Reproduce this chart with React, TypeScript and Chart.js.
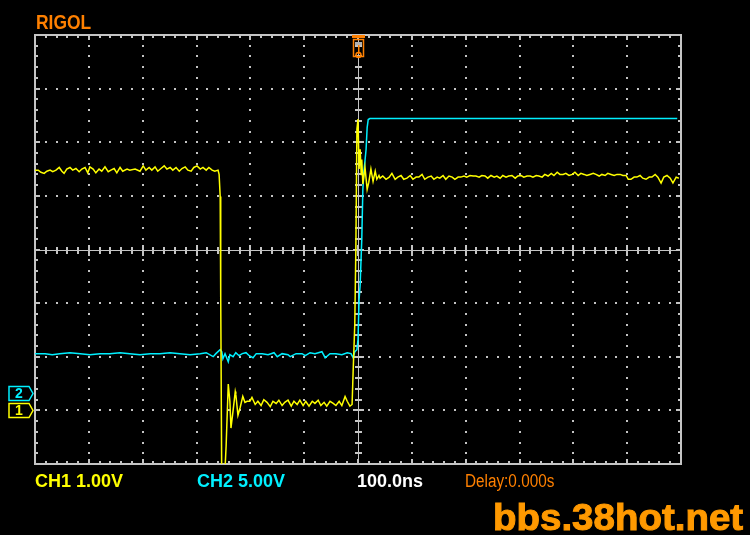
import React, { useEffect, useRef } from "react";
import { Chart, registerables } from "chart.js";

Chart.register(...registerables);

// ---- Timebase / vertical settings ----
const TIME_MIN = -600; // ns (100 ns/div, 12 div)
const TIME_MAX = 600;
const TIME_PER_DIV = 100;
const CH1_VOLTS_PER_DIV = 1;
const CH1_GROUND_DIV = -3;
const CH2_VOLTS_PER_DIV = 5;
const CH2_GROUND_DIV = -2.67;

// ---- CH1 (yellow) samples: [time ns, volts] ----
const CH1_HIGH_BEFORE: [number, number][] = [
  [-600, 4.48], [-594, 4.48], [-589, 4.44], [-583, 4.42], [-578, 4.46], [-572, 4.48], [-567, 4.45],
  [-561, 4.48], [-555, 4.53], [-550, 4.46], [-546, 4.42], [-541, 4.5], [-535, 4.53], [-530, 4.48],
  [-524, 4.51], [-518, 4.45], [-513, 4.5], [-507, 4.53], [-502, 4.43], [-498, 4.54], [-492, 4.5],
  [-487, 4.43], [-481, 4.5], [-476, 4.46], [-470, 4.54], [-464, 4.45], [-459, 4.48], [-453, 4.51],
  [-448, 4.43], [-442, 4.53], [-437, 4.46], [-429, 4.5], [-424, 4.48], [-414, 4.5], [-405, 4.46],
  [-399, 4.56], [-394, 4.48], [-388, 4.53], [-383, 4.48], [-377, 4.54], [-372, 4.46], [-366, 4.51],
  [-360, 4.56], [-355, 4.5], [-349, 4.53], [-344, 4.48], [-338, 4.53], [-332, 4.46], [-327, 4.51],
  [-321, 4.54], [-316, 4.48], [-310, 4.46], [-305, 4.53], [-299, 4.56], [-293, 4.5], [-288, 4.53],
  [-282, 4.48], [-277, 4.53], [-271, 4.48], [-266, 4.46], [-260, 4.48],
];
const CH1_FALL_EDGE: [number, number][] = [
  [-258, 4.4], [-256, 3.99], [-255, 2.1], [-253, -1.5], [-249, -1.5], [-245, -0.67], [-241, 0.49],
  [-238, 0.17], [-236, -0.33], [-232, 0.0], [-228, 0.35], [-227, 0.3], [-223, -0.09], [-219, 0.05],
  [-214, 0.26], [-210, 0.15], [-206, 0.17],
];
const CH1_LOW: [number, number][] = [
  [-201, 0.17], [-197, 0.24], [-191, 0.11], [-186, 0.17], [-180, 0.09], [-175, 0.2], [-169, 0.15],
  [-163, 0.07], [-158, 0.17], [-152, 0.13], [-147, 0.19], [-141, 0.09], [-136, 0.15], [-130, 0.19],
  [-124, 0.08], [-119, 0.17], [-113, 0.11], [-108, 0.19], [-102, 0.09], [-97, 0.17], [-91, 0.08],
  [-85, 0.17], [-80, 0.13], [-74, 0.19], [-69, 0.09], [-63, 0.15], [-58, 0.08], [-52, 0.17],
  [-46, 0.13], [-41, 0.09], [-35, 0.17], [-30, 0.09], [-24, 0.26], [-20, 0.17], [-15, 0.08], [-11, 0.11],
];
const CH1_RISE_EDGE: [number, number][] = [
  [-9, 0.73], [-6, 1.6], [-4, 3.0], [-2, 5.24], [0, 5.43], [2, 4.5], [4, 4.87], [6, 4.4], [7, 4.68],
  [9, 4.22], [13, 4.53], [17, 4.12], [20, 4.25], [24, 4.5], [28, 4.27], [32, 4.46], [35, 4.31], [39, 4.38],
];
const CH1_HIGH_AFTER: [number, number][] = [
  [41, 4.33], [46, 4.37], [52, 4.31], [58, 4.35], [63, 4.42], [69, 4.31], [74, 4.35], [80, 4.38],
  [85, 4.31], [91, 4.33], [97, 4.38], [102, 4.31], [108, 4.35], [113, 4.35], [119, 4.4], [124, 4.31],
  [130, 4.35], [136, 4.37], [141, 4.31], [147, 4.35], [152, 4.33], [158, 4.38], [163, 4.31], [169, 4.37],
  [175, 4.35], [180, 4.31], [186, 4.35], [191, 4.35], [197, 4.37], [202, 4.35], [208, 4.38], [214, 4.37],
  [219, 4.37], [225, 4.35], [230, 4.38], [236, 4.37], [241, 4.33], [247, 4.38], [253, 4.35], [258, 4.37],
  [264, 4.33], [269, 4.38], [275, 4.35], [280, 4.37], [286, 4.38], [292, 4.33], [297, 4.37], [303, 4.38],
  [308, 4.35], [314, 4.37], [320, 4.37], [325, 4.35], [331, 4.38], [336, 4.37], [342, 4.35], [347, 4.4],
  [353, 4.37], [359, 4.42], [364, 4.38], [370, 4.44], [375, 4.4], [381, 4.4], [386, 4.42], [392, 4.38],
  [398, 4.4], [403, 4.44], [409, 4.38], [414, 4.42], [420, 4.4], [425, 4.38], [431, 4.4], [437, 4.42],
  [442, 4.4], [448, 4.37], [453, 4.4], [459, 4.38], [464, 4.42], [470, 4.4], [476, 4.38], [481, 4.4],
  [487, 4.4], [492, 4.38], [498, 4.38], [502, 4.31], [507, 4.31], [513, 4.35], [518, 4.35], [524, 4.38],
  [529, 4.33], [535, 4.31], [541, 4.35], [546, 4.35], [552, 4.4], [557, 4.35], [563, 4.24], [568, 4.35],
  [574, 4.38], [580, 4.33], [585, 4.24], [591, 4.35], [596, 4.33],
];

// ---- CH2 (cyan) samples: [time ns, volts] ----
const CH2_LOW: [number, number][] = [
  [-600, 3.64], [-581, 3.64], [-568, 3.54], [-554, 3.64], [-535, 3.73], [-516, 3.64], [-498, 3.54],
  [-479, 3.64], [-461, 3.64], [-442, 3.73], [-424, 3.64], [-405, 3.54], [-386, 3.64], [-368, 3.64],
  [-349, 3.73], [-331, 3.64], [-312, 3.54], [-293, 3.64], [-282, 3.73], [-269, 3.36], [-264, 3.64],
  [-256, 4.01], [-253, 3.82], [-251, 3.17], [-247, 3.64], [-241, 2.89], [-238, 3.54], [-232, 3.36],
  [-227, 3.73], [-221, 3.45], [-215, 3.64], [-208, 3.73], [-202, 3.45], [-195, 3.26], [-189, 3.64],
  [-178, 3.64], [-167, 3.54], [-156, 3.73], [-150, 3.36], [-141, 3.64], [-130, 3.54], [-126, 3.36],
  [-115, 3.64], [-104, 3.64], [-98, 3.45], [-89, 3.73], [-80, 3.64], [-67, 3.82], [-61, 3.26],
  [-52, 3.64], [-41, 3.64], [-30, 3.54], [-20, 3.73], [-13, 3.64], [-9, 3.26],
];
const CH2_RISE_EDGE: [number, number][] = [
  [-6, 3.82], [-2, 4.01], [0, 4.94], [2, 8.68], [4, 10.07], [7, 14.27], [9, 18.94], [11, 20.61],
  [15, 22.67], [17, 24.72], [19, 25.47], [22, 25.56],
];
const CH2_HIGH: [number, number][] = [[200, 25.56], [400, 25.56], [593, 25.56]];

// ---- Labels ----
const BRAND = "RIGOL";
const CH1_LABEL = "CH1 1.00V";
const CH2_LABEL = "CH2 5.00V";
const TIMEBASE_LABEL = "100.0ns";
const DELAY_LABEL = "Delay:0.000s";
const WATERMARK = "bbs.38hot.net";

const YELLOW = "#ffff00";
const CYAN = "#00f0ff";
const ORANGE = "#ff8000";
const GRID = "#c4c4c4";

const CH1_MIN = (-4 - CH1_GROUND_DIV) * CH1_VOLTS_PER_DIV;
const CH1_MAX = (4 - CH1_GROUND_DIV) * CH1_VOLTS_PER_DIV;
const CH2_MIN = (-4 - CH2_GROUND_DIV) * CH2_VOLTS_PER_DIV;
const CH2_MAX = (4 - CH2_GROUND_DIV) * CH2_VOLTS_PER_DIV;

const toPoints = (...parts: [number, number][][]) =>
  parts.flat().map(([x, y]) => ({ x, y }));

const graticule = {
  id: "graticule",
  beforeDatasetsDraw(chart: any) {
    const { ctx, chartArea: a, scales } = chart;
    const xs = scales.x;
    const ys = scales.y1;
    const px = (t: number) => Math.round(xs.getPixelForValue(t));
    const py = (v: number) => Math.round(ys.getPixelForValue(v));
    const cx = px(0);
    const cy = py(CH1_MIN + 4 * CH1_VOLTS_PER_DIV);
    ctx.save();
    ctx.fillStyle = GRID;
    for (let i = 1; i < 12; i++) {
      if (i === 6) continue;
      const x = px(TIME_MIN + i * TIME_PER_DIV);
      for (let j = 1; j < 40; j++) {
        const y = py(CH1_MIN + (j * CH1_VOLTS_PER_DIV) / 5);
        ctx.fillRect(x - 1, y - 1, 2, 2);
      }
    }
    for (let i = 1; i < 8; i++) {
      if (i === 4) continue;
      const y = py(CH1_MIN + i * CH1_VOLTS_PER_DIV);
      for (let j = 1; j < 60; j++) {
        const x = px(TIME_MIN + (j * TIME_PER_DIV) / 5);
        ctx.fillRect(x - 1, y - 1, 2, 2);
      }
    }
    ctx.fillRect(cx, a.top, 1, a.bottom - a.top);
    ctx.fillRect(a.left, cy, a.right - a.left, 1);
    for (let j = 1; j < 60; j++) {
      const x = px(TIME_MIN + (j * TIME_PER_DIV) / 5);
      const len = j % 5 === 0 ? 5 : 3;
      ctx.fillRect(x - 1, cy - len, 2, 2 * len + 1);
    }
    for (let j = 1; j < 40; j++) {
      const y = py(CH1_MIN + (j * CH1_VOLTS_PER_DIV) / 5);
      const len = j % 5 === 0 ? 5 : 3;
      ctx.fillRect(cx - len, y - 1, 2 * len + 1, 2);
    }
    for (let j = 1; j < 60; j++) {
      const x = px(TIME_MIN + (j * TIME_PER_DIV) / 5);
      const len = j % 5 === 0 ? 5 : 3;
      ctx.fillRect(x - 1, a.top, 2, len);
      ctx.fillRect(x - 1, a.bottom - len, 2, len);
    }
    for (let j = 1; j < 40; j++) {
      const y = py(CH1_MIN + (j * CH1_VOLTS_PER_DIV) / 5);
      const len = j % 5 === 0 ? 5 : 3;
      ctx.fillRect(a.left, y - 1, len, 2);
      ctx.fillRect(a.right - len, y - 1, len, 2);
    }
    ctx.strokeStyle = GRID;
    ctx.lineWidth = 2;
    ctx.strokeRect(a.left, a.top, a.right - a.left, a.bottom - a.top);
    ctx.restore();
  },
  afterDraw(chart: any) {
    const { ctx, chartArea: a, scales } = chart;
    ctx.save();
    // trigger position marker
    const tx = Math.round(scales.x.getPixelForValue(0));
    const top = a.top;
    ctx.fillStyle = ORANGE;
    ctx.strokeStyle = ORANGE;
    ctx.fillRect(tx - 6, top, 13, 3);
    ctx.lineWidth = 1.5;
    ctx.strokeRect(tx - 4.5, top + 4.5, 10, 17);
    ctx.fillStyle = "#b0b0b0";
    ctx.fillRect(tx - 3, top + 7, 7, 3);
    ctx.fillStyle = ORANGE;
    ctx.fillRect(tx, top + 10, 1.5, 9);
    ctx.beginPath();
    ctx.arc(tx + 0.5, top + 20, 2.5, 0, Math.PI * 2);
    ctx.stroke();
    // channel ground markers
    const marker = (y: number, color: string, label: string) => {
      ctx.strokeStyle = color;
      ctx.fillStyle = color;
      ctx.lineWidth = 1.5;
      ctx.beginPath();
      ctx.moveTo(9, y - 7);
      ctx.lineTo(29, y - 7);
      ctx.lineTo(33, y);
      ctx.lineTo(29, y + 7);
      ctx.lineTo(9, y + 7);
      ctx.closePath();
      ctx.stroke();
      ctx.font = 'bold 14px "Liberation Sans", sans-serif';
      ctx.textAlign = "center";
      ctx.textBaseline = "middle";
      ctx.fillText(label, 19, y + 1);
    };
    marker(Math.round(scales.y2.getPixelForValue(0)) + 0.5, CYAN, "2");
    marker(Math.round(scales.y1.getPixelForValue(0)) + 0.5, YELLOW, "1");
    ctx.restore();
  },
};

function Scope() {
  const ref = useRef<HTMLCanvasElement | null>(null);
  useEffect(() => {
    if (!ref.current) return;
    const chart = new Chart(ref.current, {
      type: "line",
      data: {
        datasets: [
          {
            label: "CH1",
            data: toPoints(CH1_HIGH_BEFORE, CH1_FALL_EDGE, CH1_LOW, CH1_RISE_EDGE, CH1_HIGH_AFTER),
            yAxisID: "y1",
            borderColor: YELLOW,
            borderWidth: 1.5,
            pointRadius: 0,
            tension: 0,
            clip: 0,
          },
          {
            label: "CH2",
            data: toPoints(CH2_LOW, CH2_RISE_EDGE, CH2_HIGH),
            yAxisID: "y2",
            borderColor: CYAN,
            borderWidth: 1.5,
            pointRadius: 0,
            tension: 0,
            clip: 0,
          },
        ],
      },
      options: {
        responsive: false,
        animation: false,
        devicePixelRatio: 1,
        layout: { padding: { left: 35, right: 69, top: 35, bottom: 71 } },
        parsing: false as any,
        normalized: true,
        scales: {
          x: { type: "linear", min: TIME_MIN, max: TIME_MAX, display: false },
          y1: { type: "linear", min: CH1_MIN, max: CH1_MAX, display: false },
          y2: { type: "linear", min: CH2_MIN, max: CH2_MAX, display: false },
        },
        plugins: { legend: { display: false }, tooltip: { enabled: false } },
        events: [],
      },
      plugins: [graticule],
    });
    return () => chart.destroy();
  }, []);
  return <canvas ref={ref} width={750} height={535} style={{ position: "absolute", left: 0, top: 0 }} />;
}

const txt = (extra: React.CSSProperties): React.CSSProperties => ({
  position: "absolute",
  whiteSpace: "nowrap",
  fontFamily: '"Liberation Sans", Arial, sans-serif',
  transformOrigin: "0 0",
  ...extra,
});

export default function App() {
  return (
    <div style={{ position: "fixed", left: 0, top: 0, width: 750, height: 535, background: "#000", overflow: "hidden" }}>
      <Scope />
      <div style={txt({ left: 36, top: 12, fontSize: 20, lineHeight: "20px", fontWeight: 700, color: ORANGE, transform: "scaleX(0.87)" })}>{BRAND}</div>
      <div style={txt({ left: 35, top: 472, fontSize: 18, lineHeight: "18px", fontWeight: 700, color: YELLOW })}>{CH1_LABEL}</div>
      <div style={txt({ left: 197, top: 472, fontSize: 18, lineHeight: "18px", fontWeight: 700, color: CYAN })}>{CH2_LABEL}</div>
      <div style={txt({ left: 357, top: 472, fontSize: 18, lineHeight: "18px", fontWeight: 700, color: "#ffffff" })}>{TIMEBASE_LABEL}</div>
      <div style={txt({ left: 465, top: 472, fontSize: 18, lineHeight: "18px", fontWeight: 400, color: ORANGE, transform: "scaleX(0.85)" })}>{DELAY_LABEL}</div>
      <div style={txt({ left: 493, top: 499, fontSize: 37, lineHeight: "37px", fontWeight: 700, color: "#ff9900", WebkitTextStroke: "1px #ff9900", transform: "scaleX(1.04)" })}>{WATERMARK}</div>
    </div>
  );
}
